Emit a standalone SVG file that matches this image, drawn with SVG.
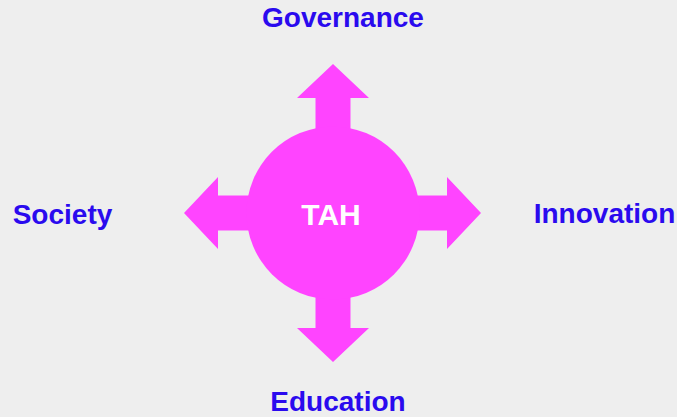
<svg xmlns="http://www.w3.org/2000/svg" width="677" height="417" viewBox="0 0 677 417">
<style>
.arrow{fill:#ff44ff}
.lbl{font-family:"Liberation Sans",Arial,sans-serif;font-weight:bold;font-size:28px;fill:#2a0aee;text-anchor:middle}
.ctr{font-family:"Liberation Sans",Arial,sans-serif;font-weight:bold;font-size:30px;fill:#ffffff;text-anchor:middle}
</style>
<rect width="677" height="417" fill="#eeeeee"/>
<g id="connectors">
<polygon class="arrow" points="315.5,160 315.5,98 297,98 333,64 369,98 350.5,98 350.5,160"/>
<polygon class="arrow" points="315.5,266 315.5,328 297,328 333,362 369,328 350.5,328 350.5,266"/>
<polygon class="arrow" points="280,195.5 218,195.5 218,177 184,213 218,249 218,230.5 280,230.5"/>
<polygon class="arrow" points="386,195.5 447,195.5 447,177 481,213 447,249 447,230.5 386,230.5"/>
</g>
<g id="tah">
<circle class="arrow" cx="333" cy="213" r="86.5"/>
<text class="ctr" x="331" y="225">TAH</text>
</g>
<g id="governance"><text class="lbl" x="343" y="27">Governance</text></g>
<g id="society"><text class="lbl" x="62.5" y="224">Society</text></g>
<g id="innovation"><text class="lbl" x="604.5" y="223">Innovation</text></g>
<g id="education"><text class="lbl" x="338" y="411">Education</text></g>
</svg>
